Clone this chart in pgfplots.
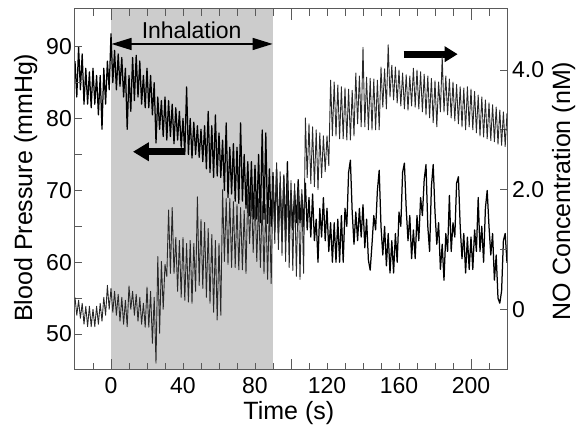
\documentclass[border=0pt]{standalone}
\usepackage{pgfplots}
\pgfplotsset{compat=1.18}
\usepackage{fontspec}
\setmainfont{Liberation Sans}
\usetikzlibrary{arrows.meta}
\definecolor{inhgray}{RGB}{204,204,204}
\definecolor{frame}{RGB}{90,90,90}
\definecolor{notrace}{RGB}{40,40,40}

\begin{document}
\begin{tikzpicture}
\useasboundingbox (-75pt,-55pt) rectangle (501pt,370pt);
\begin{axis}[
  scale only axis, width=432pt, height=361pt,
  xmin=-20, xmax=220, ymin=45, ymax=95.25,
  xtick={0,40,...,200},
  minor xtick={-10,0,...,210},
  extra x ticks={0,100,200}, extra x tick labels={},
  extra x tick style={major tick length=11pt},
  ytick={50,60,...,90}, minor ytick={55,65,75,85},
  ytick pos=left, xtick pos=both, xticklabel pos=lower,
  tick align=inside, axis on top,
  major tick length=7pt, minor tick length=7pt,
  axis line style={frame, line width=1pt},
  tick style={frame, line width=0.9pt},
  /pgf/number format/assume math mode=true,
  tick label style={font=\fontsize{23}{27}\selectfont},
  xticklabel style={inner sep=0pt, yshift=-7pt},
  yticklabel style={inner sep=0pt, xshift=-3pt},
  label style={font=\fontsize{25}{30}\selectfont},
  xlabel={Time (s)},
  xlabel style={at={(axis description cs:0.495,-0.1385)}, anchor=base},
  ylabel={Blood Pressure (mmHg)},
  ylabel style={at={(axis description cs:-0.0995,0.505)}, anchor=base},
]
\fill[inhgray] (axis cs:0,45) rectangle (axis cs:90,95.25);

% blood pressure
\addplot[black, line width=1.25pt, line join=round] coordinates {
(-20,88)(-19,83)(-18,90)(-17,84)(-16,89)(-15,82)(-14,87)(-13,82)(-12,86.5)(-11,81.5)
(-10,87)(-9,82)(-8,86)(-7,80.5)(-6,86)(-5,78.5)(-4,87)(-3,82)(-2,88)(-1,84)
(0,91.8)(1,85)(2,89.5)(3,84)(4,89)(5,84.5)(6,88.5)(7,83)(8,87)(9,78.5)
(10,86)(11,81)(12,88.5)(13,82.5)(14,88.8)(15,83)(16,88)(17,82)(18,86)(19,81.5)
(20,87)(21,81.5)(22,86)(23,80.5)(24,85)(25,76.6)(26,83)(27,78.5)(28,82.5)(29,77.5)
(30,83)(31,77)(32,82.5)(33,77.5)(34,82)(35,76.5)(36,81.5)(37,77)(38,81)(39,76)
(40,80)(41,75)(42,84.4)(43,75)(44,80)(45,74.5)(46,79.5)(47,75)(48,79)(49,74.6)
(50,78.5)(51,74)(52,79)(53,73)(54,81)(55,72.5)(56,79)(57,71.8)(58,80.5)(59,72)
(60,78)(61,71.8)(62,77)(63,70)(64,79.4)(65,69)(66,76)(67,69.5)(68,76.5)(69,68.5)
(70,76)(71,68.2)(72,79.4)(73,68.5)(74,75)(75,67.5)(76,74)(77,66.5)(78,74)(79,66)
(80,73.5)(81,66)(82,75)(83,65.5)(84,78.4)(85,66)(86,78)(87,65.4)(88,73)(89,65)
(90,72.5)(91,64.5)(92,73)(93,64)(94,71)(95,63.5)(96,72)(97,63.5)(98,74)(99,64)
(100,70)(101,64.5)(102,70)(103,65.5)(104,71.5)(105,65.5)(106,69.5)(107,65)(108,71)(109,64.5)
(110,69)(111,63.5)(112,69.5)(113,63)(114,66)(115,60)(116,67.5)(117,63.5)(118,69)(119,63)
(120,67.5)(121,61.5)(122,65.5)(123,60)(124,65.5)(125,60)(126,66)(127,60)(128,66.5)(129,60)
(130,67.5)(131,65)(132,72.5)(133,74.2)(134,67)(135,62.5)(136,67)(137,63)(138,67.5)(139,63.5)
(140,68)(141,62)(142,66)(143,60.3)(144,58.9)(145,62.5)(146,66.5)(147,64.5)(148,70)(149,72.8)
(150,65)(151,61)(152,65)(153,59.5)(154,64)(155,58.5)(156,63)(157,58.5)(158,64)(159,60)
(160,67)(161,65)(162,72.5)(163,73.8)(164,67.5)(165,63)(166,66.5)(167,60.5)(168,64.5)(169,60.5)
(170,66.5)(171,63)(172,69)(173,66.5)(174,71.5)(175,73.6)(176,65)(177,61.5)(178,70.5)(179,73.6)
(180,67)(181,62.5)(182,65.5)(183,59)(184,62.5)(185,57.5)(186,64)(187,61.5)(188,69.3)(189,61.5)
(190,65.5)(191,63.5)(192,71)(193,71.9)(194,65)(195,60.5)(196,64)(197,58.5)(198,63.5)(199,59)
(200,63.5)(201,59)(202,64.5)(203,61.5)(204,69)(205,61.5)(206,65)(207,60)(208,67.5)(209,70)
(210,65)(211,61)(212,64)(213,57.5)(214,61)(215,55)(216,54.3)(217,56)(218,63)(219,64)(220,59.9)
};

\draw[line width=1.4pt, {Triangle[length=20pt,width=12pt]}-{Triangle[length=20pt,width=12pt]}]
  (axis cs:0.3,90.38) -- (axis cs:89.8,90.38);
\node[anchor=base, font=\fontsize{23}{27}\selectfont] at (axis cs:44.8,91.17) {Inhalation};
\draw[line width=7pt, -{Triangle[length=16pt,width=18pt]}]
  (axis cs:41.2,75.38) -- (axis cs:12.2,75.38);
\draw[line width=7pt, -{Triangle[length=13pt,width=15pt]}]
  (axis cs:162.6,88.96) -- (axis cs:192.6,88.96);
\end{axis}

\begin{axis}[
  scale only axis, width=432pt, height=361pt,
  xmin=-20, xmax=220, ymin=-1.015, ymax=5.02,
  axis x line=none, axis y line*=right, y axis line style={-},
  ytick={0,2,4}, yticklabels={0,2.0,4.0}, minor ytick={1,3},
  tick align=inside,
  major tick length=7pt, minor tick length=7pt,
  axis line style={frame, line width=1pt},
  tick style={frame, line width=0.9pt},
  tick label style={font=\fontsize{23}{27}\selectfont},
  yticklabel style={inner sep=0pt, xshift=5pt},
  label style={font=\fontsize{25}{30}\selectfont},
  ylabel={NO Concentration (nM)},
  ylabel style={at={(axis description cs:1.146,0.496)}, anchor=base},
]
% NO concentration
\addplot[notrace, line width=0.9pt, line join=round] coordinates {
(-20,0.2)(-19,-0.1)(-18,0.15)(-17,-0.15)(-16,0.1)(-15,-0.25)(-14,0.05)(-13,-0.29)(-12,0.05)(-11,-0.29)
(-10,0)(-9,-0.29)(-8,0.05)(-7,-0.25)(-6,0.1)(-5,-0.2)(-4,0.2)(-3,-0.1)(-2,0.4)(-1,0)
(0,0.35)(1,-0.05)(2,0.3)(3,-0.1)(4,0.25)(5,-0.2)(6,0.2)(7,-0.25)(8,0.15)(9,-0.29)
(10,0.39)(11,0)(12,0.3)(13,-0.1)(14,0.25)(15,-0.2)(16,0.2)(17,-0.25)(18,0.1)(19,-0.3)
(20,0.37)(21,-0.3)(22,0.3)(23,-0.57)(24,0.2)(25,-0.9)(26,0.88)(27,-0.4)(28,0.8)(29,0)
(30,0.75)(31,0.55)(32,1.66)(33,0.6)(34,1.7)(35,0.6)(36,1.2)(37,0.3)(38,1.15)(39,0.2)
(40,1.2)(41,0.15)(42,1.1)(43,0.12)(44,1.15)(45,0.1)(46,1.1)(47,0.3)(48,1.88)(49,0.4)
(50,1.5)(51,0.35)(52,1.45)(53,0.2)(54,1.35)(55,0.1)(56,1.25)(57,-0.05)(58,1.15)(59,-0.18)
(60,1.1)(61,-0.1)(62,2)(63,0.8)(64,1.85)(65,0.75)(66,1.85)(67,0.7)(68,1.8)(69,0.7)
(70,1.75)(71,0.66)(72,1.7)(73,0.66)(74,1.65)(75,0.6)(76,2)(77,1.1)(78,1.95)(79,0.95)
(80,1.9)(81,0.8)(82,1.85)(83,0.7)(84,1.8)(85,0.6)(86,1.75)(87,0.5)(88,1.7)(89,0.43)
(90,2.2)(91,1.1)(92,2.45)(93,1)(94,2.3)(95,0.9)(96,2.25)(97,0.8)(98,2.2)(99,0.7)
(100,2.15)(101,0.65)(102,2.1)(103,0.55)(104,2.05)(105,0.5)(106,2)(107,0.6)(108,3.2)(109,2.2)
(110,3.1)(111,2.1)(112,3.05)(113,2.05)(114,3)(115,2)(116,2.95)(117,2.2)(118,2.9)(119,2.3)
(120,2.9)(121,2.4)(122,3.83)(123,2.9)(124,3.8)(125,2.9)(126,3.75)(127,2.85)(128,3.72)(129,2.85)
(130,3.7)(131,2.83)(132,3.68)(133,2.83)(134,3.66)(135,2.9)(136,3.95)(137,3.1)(138,3.9)(139,3.05)
(140,4.38)(141,3.05)(142,3.88)(143,3)(144,3.86)(145,3)(146,3.85)(147,3)(148,3.83)(149,3)
(150,4.05)(151,3.38)(152,4.02)(153,3.35)(154,4.42)(155,3.55)(156,4.08)(157,3.5)(158,4.05)(159,3.45)
(160,4)(161,3.4)(162,3.95)(163,3.35)(164,3.92)(165,3.33)(166,3.9)(167,3.4)(168,4.03)(169,3.38)
(170,4)(171,3.35)(172,3.97)(173,3.3)(174,3.93)(175,3.25)(176,3.9)(177,3.2)(178,3.86)(179,3.12)
(180,3.82)(181,3.05)(182,3.8)(183,3.3)(184,4.22)(185,3.3)(186,3.9)(187,3.25)(188,3.85)(189,3.2)
(190,3.8)(191,3.15)(192,3.76)(193,3.1)(194,3.72)(195,3.05)(196,3.7)(197,3)(198,3.72)(199,3.05)
(200,3.68)(201,3)(202,3.64)(203,2.95)(204,3.58)(205,2.9)(206,3.55)(207,2.88)(208,3.5)(209,2.85)
(210,3.45)(211,2.82)(212,3.42)(213,2.8)(214,3.38)(215,2.76)(216,3.33)(217,2.74)(218,3.3)(219,2.72)(220,3.28)
};
\end{axis}
\end{tikzpicture}
\end{document}
